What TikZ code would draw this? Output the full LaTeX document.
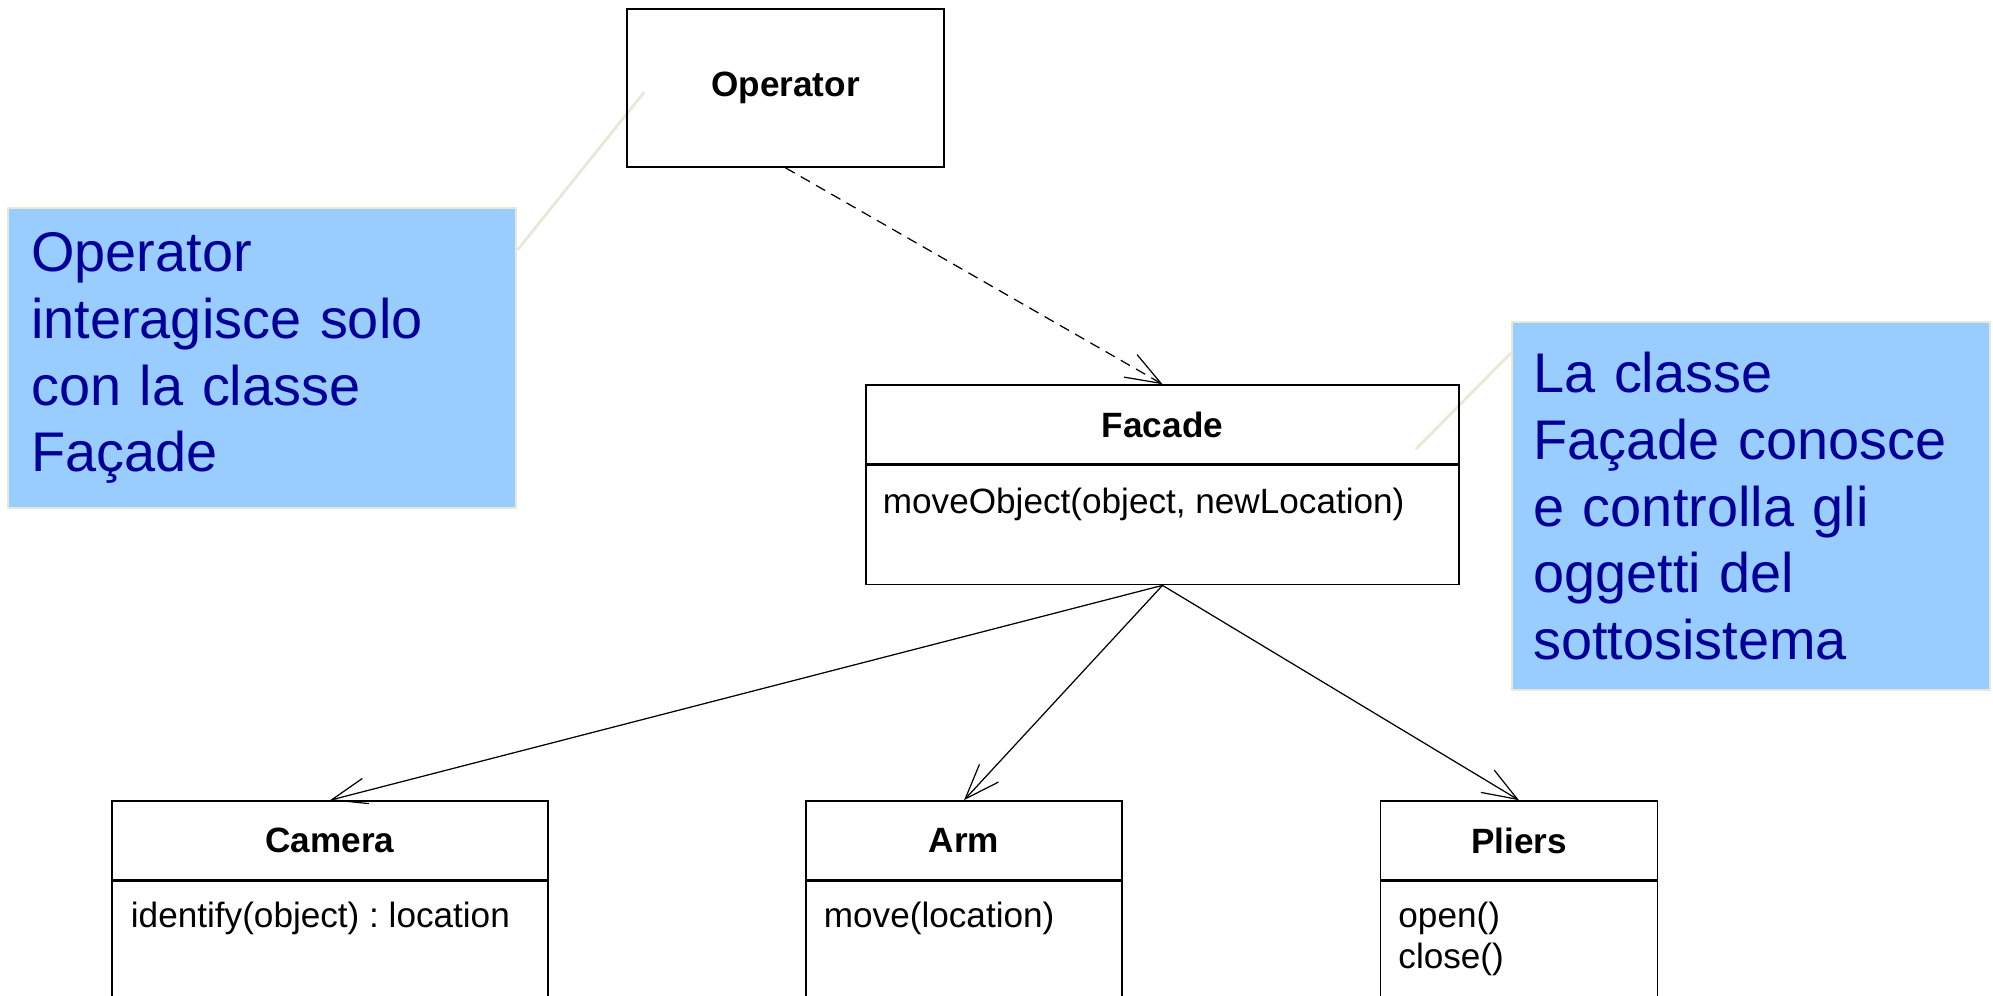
\documentclass[tikz,border=0pt]{standalone}
\usepackage{fontspec}
\setmainfont{Liberation Sans}
\frenchspacing
\usepackage{tikz}
\usetikzlibrary{positioning, arrows.meta, backgrounds}

\definecolor{notefill}{HTML}{99CCFF}
\definecolor{notetext}{HTML}{000099}
\definecolor{noteedge}{RGB}{232,232,216}

\begin{document}
\begin{tikzpicture}[
    x=0.1mm, y=-0.1mm,
    >={Straight Barb[length=3.5mm, width=2.6mm]},
    classname/.style={draw, line width=0.45pt, minimum height=7.9mm, inner sep=0pt,
      font=\fontsize{10}{12}\selectfont\bfseries},
    classbody/.style={draw, line width=0.45pt, inner sep=0pt},
    optext/.style={anchor=base west, inner sep=0pt, font=\fontsize{10}{12}\selectfont},
    note/.style={draw=noteedge, line width=0.7pt, fill=notefill, text=notetext,
      anchor=north west, align=left, inner xsep=2.2mm, font=\fontsize{15.9}{19}\selectfont},
    noteline/.style={draw=noteedge, line width=0.8pt},
    assoc/.style={->, line width=0.35pt}
  ]

  \useasboundingbox (0,0) rectangle (1993,995);
  \clip (0,0) rectangle (1993,995);

  % client
  \node[classname, minimum width=31.7mm, minimum height=15.8mm] (operator) at (785.5,88) {Operator};

  % facade
  \node[classname, minimum width=59.3mm] (facade) at (1162.5,424.5) {Facade};
  \node[classbody, minimum width=59.3mm, minimum height=11.9mm, below=0pt of facade] (facadeOps) {};
  \node[optext] (facadeMove) at ([xshift=1.7mm, yshift=-4.9mm]facadeOps.north west) {moveObject(object, newLocation)};

  % subsystem classes
  \node[classname, minimum width=43.6mm] (camera) at (330,840.5) {Camera};
  \node[classbody, minimum width=43.6mm, minimum height=15mm, below=0pt of camera] (cameraOps) {};
  \node[optext] (cameraIdentify) at ([xshift=1.9mm, yshift=-4.7mm]cameraOps.north west) {identify(object) : location};

  \node[classname, minimum width=31.6mm] (arm) at (964,840.5) {Arm};
  \node[classbody, minimum width=31.6mm, minimum height=15mm, below=0pt of arm] (armOps) {};
  \node[optext] (armMove) at ([xshift=1.8mm, yshift=-4.7mm]armOps.north west) {move(location)};

  \node[classname, minimum width=27.7mm] (pliers) at (1519,840.5) {Pliers};
  \node[classbody, minimum width=27.7mm, minimum height=15mm, below=0pt of pliers] (pliersOps) {};
  \node[optext] (pliersOpen) at ([xshift=1.8mm, yshift=-4.7mm]pliersOps.north west) {open()};
  \node[optext] (pliersClose) at ([xshift=1.8mm, yshift=-8.8mm]pliersOps.north west) {close()};

  % dependency and associations
  \draw[assoc, dash pattern=on 3pt off 2pt] (operator.south) -- (facade.north);
  \draw[assoc] (facadeOps.south) -- (camera.north);
  \draw[assoc] (facadeOps.south) -- (arm.north);
  \draw[assoc] (facadeOps.south) -- (pliers.north);

  % notes
  \node[note, text width=46.2mm, minimum height=30mm, inner xsep=2.3mm] (noteOperator) at (7,207)
    {Operator\\interagisce solo\\con la classe\\Façade};
  \node[note, text width=43.6mm, minimum height=36.8mm, inner xsep=2.1mm] (noteFacade) at (1511,321)
    {La classe\\Façade conosce\\e controlla gli\\oggetti del\\sottosistema};

  \coordinate (operatorPin) at ([xshift=1.8mm, yshift=-8.4mm]operator.north west);
  \coordinate (facadePin) at ([xshift=-4.4mm, yshift=-6.5mm]facade.north east);
  \begin{scope}[on background layer]
    \draw[noteline] ([yshift=-4.3mm]noteOperator.north east) -- (operatorPin);
    \draw[noteline] ([yshift=-3.2mm]noteFacade.north west) -- (facadePin);
  \end{scope}

\end{tikzpicture}
\end{document}
